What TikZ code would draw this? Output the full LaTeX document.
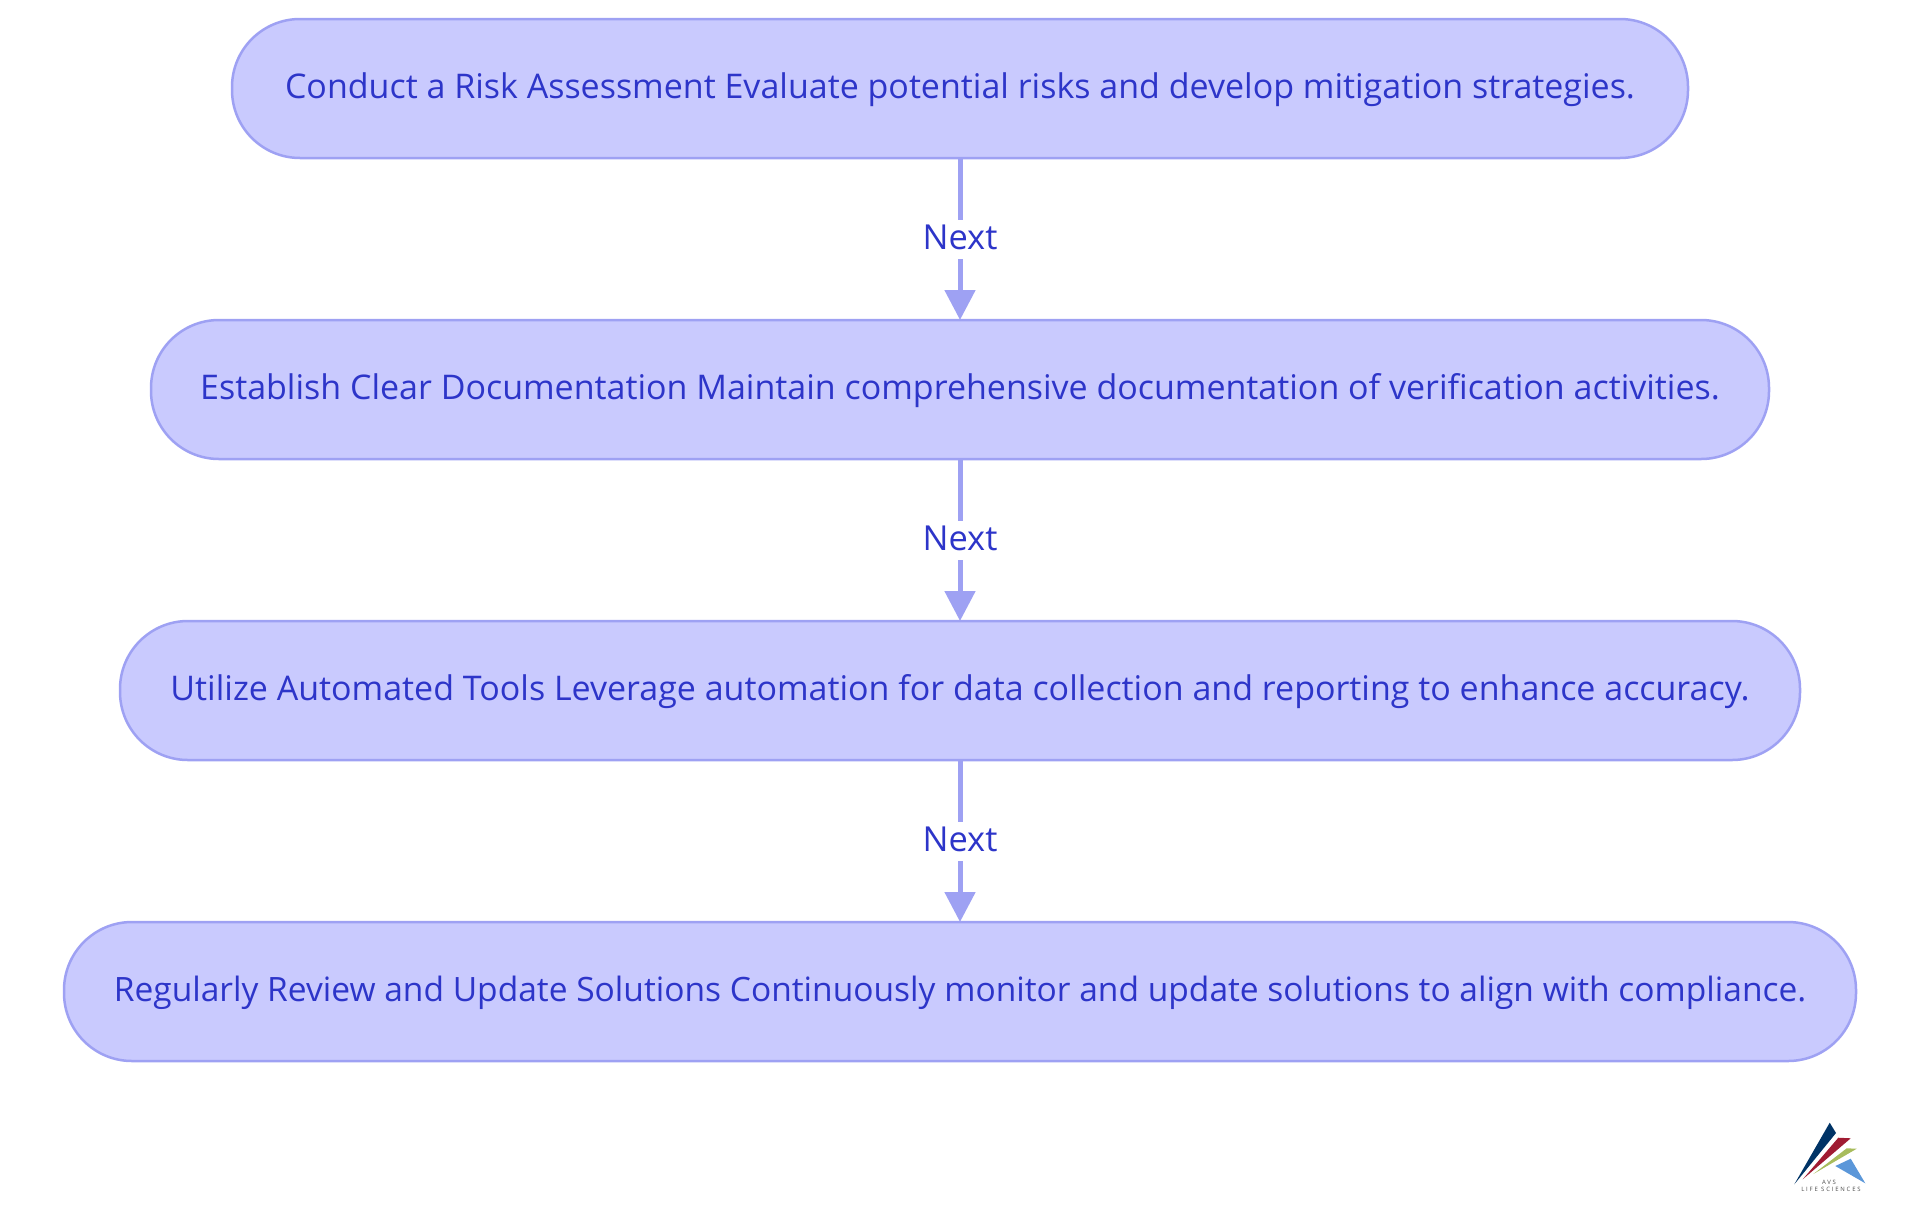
\documentclass[tikz,border=0pt]{standalone}
\usepackage{xcolor}
\usepackage{fontspec}
\setmainfont{Open Sans}
\newfontfamily\logofont[LetterSpace=30]{Open Sans}
\usetikzlibrary{positioning}
\usetikzlibrary{arrows.meta}
\definecolor{boxfill}{HTML}{C9CAFE}
\definecolor{boxline}{HTML}{9EA1F3}
\definecolor{boxtext}{HTML}{2D35C9}
\tikzset{edge/.style = {-{Triangle[length=0.3cm,width=0.3cm]},boxline,line width=0.05cm}}

\begin{document}
\begin{tikzpicture}[node distance=1.62cm,main node/.style={draw=boxline,fill=boxfill,text=boxtext,line width=0.025cm,rounded corners=0.68cm,minimum height=1.39cm,inner sep=0,outer sep=0,text height=0.28cm,text depth=0.084cm,font=\fontsize{9.67}{11}\selectfont},next label/.style={fill=white,text=boxtext,inner sep=0,minimum width=0.84cm,minimum height=0.39cm,text height=0.3cm,text depth=0.084cm,font=\fontsize{9.8}{11}\selectfont}]
            \useasboundingbox (0,0) rectangle (19.2,-12.15);

            \node[main node,minimum width=14.56cm] (1) at (9.6,-0.885) {Conduct a Risk Assessment Evaluate potential risks and develop mitigation strategies.};
            \node[main node,minimum width=16.18cm] (2) [below=of 1] {Establish Clear Documentation Maintain comprehensive documentation of verification activities.};
            \node[main node,minimum width=16.80cm] (3) [below=of 2] {Utilize Automated Tools Leverage automation for data collection and reporting to enhance accuracy.};
            \node[main node,minimum width=17.92cm,font=\fontsize{9.54}{11}\selectfont] (4) [below=of 3] {Regularly Review and Update Solutions Continuously monitor and update solutions to align with compliance.};

            \path (1) edge[edge] node[next label] {Next} (2);
            \path (2) edge[edge] node[next label] {Next} (3);
            \path (3) edge[edge] node[next label] {Next} (4);

            % logo
            \fill[fill={rgb,255:red,0;green,51;blue,102}] (18.297,-11.227) -- (18.36,-11.33) -- (17.943,-11.843) -- cycle;
            \fill[fill={rgb,255:red,160;green,27;blue,50}] (18.383,-11.377) -- (18.507,-11.383) -- (18.027,-11.793) -- cycle;
            \fill[fill={rgb,255:red,168;green,188;blue,92}] (18.467,-11.483) -- (18.567,-11.487) -- (18.133,-11.74) -- cycle;
            \fill[fill={rgb,255:red,91;green,151;blue,217}] (18.507,-11.587) -- (18.653,-11.833) -- (18.353,-11.66) -- cycle;
            \node[inner sep=0,text=black!70,font=\logofont\fontsize{1.7}{2}\selectfont] (avs) at (18.29,-11.823) {AVS};
            \node[inner sep=0,text=black!70,font=\logofont\fontsize{1.7}{2}\selectfont] (life) at (18.31,-11.89) {LIFE SCIENCES};
        \end{tikzpicture}
\end{document}
